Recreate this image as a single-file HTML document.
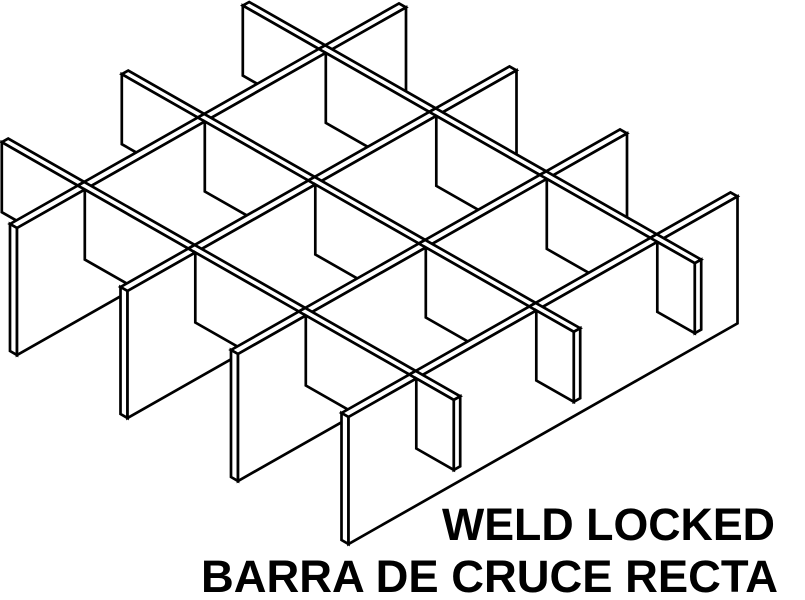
<!DOCTYPE html>
<html><head><meta charset="utf-8"><style>
html,body{margin:0;padding:0;background:#fff;}
svg{display:block;}
text{font-family:"Liberation Sans",Arial,sans-serif;font-weight:bold;fill:#000;}
</style></head><body>
<svg id="s" width="805" height="600" viewBox="0 0 805 600" xmlns="http://www.w3.org/2000/svg">
<g id="g" fill="#fff" stroke="#000" stroke-width="2.7" stroke-linejoin="miter"></g>
<text x="442" y="540" font-size="45" textLength="333" lengthAdjust="spacingAndGlyphs">WELD LOCKED</text>
<text x="201" y="592" font-size="45" textLength="577" lengthAdjust="spacingAndGlyphs">BARRA DE CRUCE RECTA</text>
</svg>
<script>
var g=document.getElementById('g');
function P(a,b,z){return [17+a+b,228-0.567*a+0.57*b+z];}
function poly(pts){var e=document.createElementNS('http://www.w3.org/2000/svg','polygon');
e.setAttribute('points',pts.map(function(p){var q=P(p[0],p[1],p[2]);return q[0].toFixed(1)+','+q[1].toFixed(1);}).join(' '));g.appendChild(e);}
var T=7,L=389,H=127,D=70,th=3.2;
var bs=[0,110.5,221,331.5];
var as=[312,191,71];
function panel(b){
 poly([[0,b-T,0],[L,b-T,0],[L,b,0],[0,b,0]]);
 poly([[0,b-T,0],[0,b,0],[0,b,H],[0,b-T,H]]);
 poly([[0,b,0],[L,b,0],[L,b,H],[0,b,H]]);
}
function bar(a,b0,b1,topStart,endFace){
 poly([[a-th,topStart,0],[a+th,topStart,0],[a+th,b1,0],[a-th,b1,0]]);
 poly([[a-th,b0,0],[a-th,b1,0],[a-th,b1,D],[a-th,b0,D]]);
 if(endFace) poly([[a-th,b1,0],[a+th,b1,0],[a+th,b1,D],[a-th,b1,D]]);
}
as.forEach(function(a){bar(a,-83,-T,-83,false);});
for(var i=0;i<4;i++){
 panel(bs[i]);
 if(i<3){as.forEach(function(a){bar(a,bs[i],bs[i+1]-T,bs[i]-T,false);});}
 else{as.forEach(function(a){bar(a,bs[i],369,bs[i]-T,true);});}
}
</script>
</body></html>
